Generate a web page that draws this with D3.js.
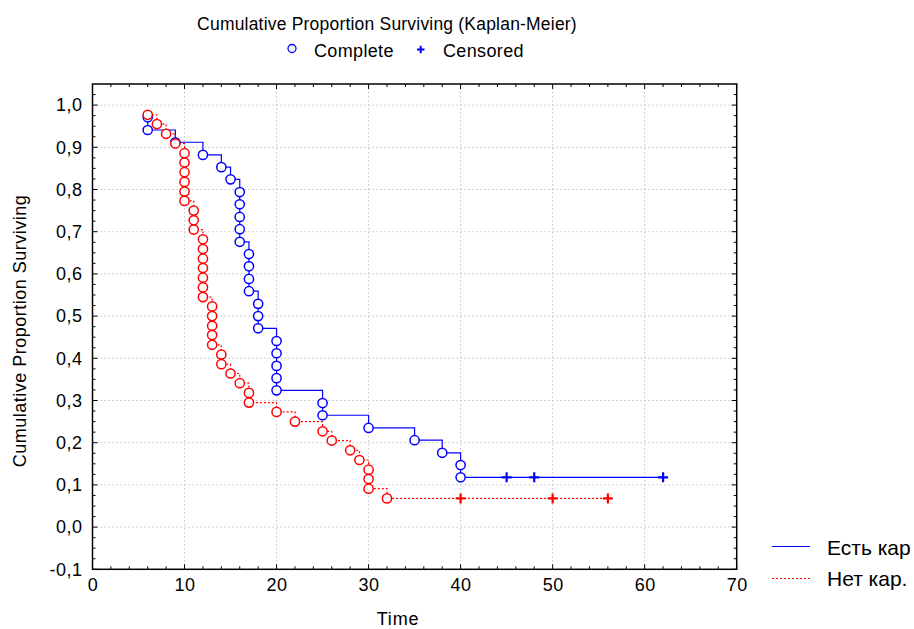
<!DOCTYPE html>
<html>
<head>
<meta charset="utf-8">
<script src="https://cdn.jsdelivr.net/npm/d3@7"></script>
<style>
  html, body { margin: 0; padding: 0; background: #fff; }
  svg { display: block; font-family: "Liberation Sans", Arial, sans-serif; }
</style>
</head>
<body>
<svg id="chart" width="914" height="629"></svg>
<script>
// ---- Data ----
const blueName = "Есть кар";
const redName = "Нет кар.";
const blueEventTimes = [6,6,9,12,14,15,16,16,16,16,16,17,17,17,17,18,18,18,20,20,20,20,20,25,25,30,35,38,40,40];
const blueSurvival = [0.971,0.941,0.912,0.882,0.853,0.824,0.794,0.765,0.735,0.706,0.676,0.647,0.618,0.588,0.559,0.529,0.500,0.471,0.441,0.412,0.382,0.353,0.324,0.294,0.265,0.235,0.206,0.176,0.147,0.118];
const blueCensoredTimes = [45,48,62];

const redEventTimes = [6,7,8,9,10,10,10,10,10,10,11,11,11,12,12,12,12,12,12,12,13,13,13,13,13,14,14,15,16,17,17,20,22,25,26,28,29,30,30,30,32];
const redSurvival = [0.977,0.955,0.932,0.909,0.886,0.864,0.841,0.818,0.795,0.773,0.750,0.727,0.705,0.682,0.659,0.636,0.614,0.591,0.568,0.545,0.523,0.500,0.477,0.455,0.432,0.409,0.386,0.364,0.341,0.318,0.295,0.273,0.250,0.227,0.205,0.182,0.159,0.136,0.114,0.091,0.068];
const redCensoredTimes = [40,50,56];

const xTicks = [0,10,20,30,40,50,60,70];
const yTicks = [-0.1,0,0.1,0.2,0.3,0.4,0.5,0.6,0.7,0.8,0.9,1.0];

// ---- Layout ----
const svg = d3.select("#chart");
const L = 92.5, T = 84, R = 736.7, B = 569.3;
const x = d3.scaleLinear().domain([0,70]).range([L,R]);
const y = d3.scaleLinear().domain([-0.1,1.05]).range([B,T]);
const BLUE = "#0000ff", RED = "#ff0000";
const fmt = v => d3.format(".1f")(v).replace(".", ",").replace("−","-");

// grid
const grid = svg.append("g").attr("stroke","#c4c4c4").attr("stroke-dasharray","1.5,2.5").attr("stroke-width",1);
xTicks.slice(1,-1).forEach(t => grid.append("line").attr("x1",x(t)).attr("x2",x(t)).attr("y1",T).attr("y2",B));
yTicks.slice(1).forEach(t => grid.append("line").attr("x1",L).attr("x2",R).attr("y1",y(t)).attr("y2",y(t)));

// axes (inward ticks on all sides)
const minorX = d3.range(0,71,2);
const minorY = d3.range(-0.1,1.05,0.025);
const axisBottom = d3.axisBottom(x).tickValues(xTicks).tickSize(0).tickPadding(9).tickFormat(d3.format("d"));
const gx = svg.append("g").attr("transform",`translate(0,${B})`).call(axisBottom);
gx.select(".domain").remove();
gx.selectAll("text").attr("font-size",18).attr("letter-spacing",0.5).attr("fill","#000").attr("font-family","Liberation Sans, Arial, sans-serif");
const axisLeft = d3.axisLeft(y).tickValues(yTicks).tickSize(0).tickPadding(10).tickFormat(fmt);
const gy = svg.append("g").attr("transform",`translate(${L},0)`).call(axisLeft);
gy.select(".domain").remove();
gy.selectAll("text").attr("font-size",18).attr("letter-spacing",0.5).attr("fill","#000").attr("font-family","Liberation Sans, Arial, sans-serif");

const tk = svg.append("g").attr("stroke","#000").attr("stroke-width",1);
minorX.forEach(t => {
  const len = (t % 10 === 0) ? 5 : 3;
  tk.append("line").attr("x1",x(t)).attr("x2",x(t)).attr("y1",B).attr("y2",B-len);
  tk.append("line").attr("x1",x(t)).attr("x2",x(t)).attr("y1",T).attr("y2",T+len);
});
minorY.forEach((t,i) => {
  const len = (i % 4 === 0) ? 5 : 3;
  tk.append("line").attr("x1",L).attr("x2",L+len).attr("y1",y(t)).attr("y2",y(t));
  tk.append("line").attr("x1",R).attr("x2",R-len).attr("y1",y(t)).attr("y2",y(t));
});
svg.append("rect").attr("x",L).attr("y",T).attr("width",R-L).attr("height",B-T)
  .attr("fill","none").attr("stroke","#000").attr("stroke-width",1.5);

// curves
const line = d3.line().x(d => x(d[0])).y(d => y(d[1])).curve(d3.curveStepAfter);
function series(times, surv, cens, color, dash) {
  const pts = times.map((t,i) => [t, surv[i]]);
  const last = surv[surv.length-1];
  const path = pts.concat([[d3.max(cens), last]]);
  const g = svg.append("g");
  g.append("path").attr("d", line(path)).attr("fill","none").attr("stroke",color)
    .attr("stroke-width",1.2).attr("stroke-dasharray",dash);
  g.selectAll("circle").data(pts).join("circle")
    .attr("cx", d => x(d[0])).attr("cy", d => y(d[1])).attr("r",4.6)
    .attr("fill","#fff").attr("stroke",color).attr("stroke-width",1.5);
  cens.forEach(t => {
    g.append("path").attr("d",`M${x(t)-5},${y(last)}H${x(t)+5}M${x(t)},${y(last)-5}V${y(last)+5}`)
      .attr("stroke",color).attr("stroke-width",2.2);
  });
}
series(blueEventTimes, blueSurvival, blueCensoredTimes, BLUE, null);
series(redEventTimes, redSurvival, redCensoredTimes, RED, "2,2");

// titles
svg.append("text").attr("x",387).attr("y",30).attr("text-anchor","middle").attr("font-size",17.5).attr("letter-spacing",0.2)
  .text("Cumulative Proportion Surviving (Kaplan-Meier)");
svg.append("circle").attr("cx",292).attr("cy",48.5).attr("r",4).attr("fill","none").attr("stroke",BLUE).attr("stroke-width",1.3);
svg.append("text").attr("x",314).attr("y",57).attr("font-size",18).attr("letter-spacing",0.35).text("Complete");
svg.append("path").attr("d","M417,49.5H424.5M420.7,45.8V53.3").attr("stroke",BLUE).attr("stroke-width",2);
svg.append("text").attr("x",443).attr("y",57).attr("font-size",18).attr("letter-spacing",0.35).text("Censored");

svg.append("text").attr("x",398).attr("y",625).attr("text-anchor","middle").attr("font-size",18).attr("letter-spacing",0.8).text("Time");
svg.append("text").attr("transform","translate(26,331) rotate(-90)").attr("text-anchor","middle")
  .attr("font-size",18).attr("letter-spacing",0.5).text("Cumulative Proportion Surviving");

// bottom-right legend
svg.append("line").attr("x1",772).attr("x2",810).attr("y1",546.5).attr("y2",546.5).attr("stroke",BLUE).attr("stroke-width",1.2);
svg.append("text").attr("x",827).attr("y",555).attr("font-size",21).text(blueName);
svg.append("line").attr("x1",772).attr("x2",810).attr("y1",578.5).attr("y2",578.5).attr("stroke",RED).attr("stroke-width",1.2).attr("stroke-dasharray","2,2");
svg.append("text").attr("x",827).attr("y",586).attr("font-size",21).text(redName);
</script>
</body>
</html>
